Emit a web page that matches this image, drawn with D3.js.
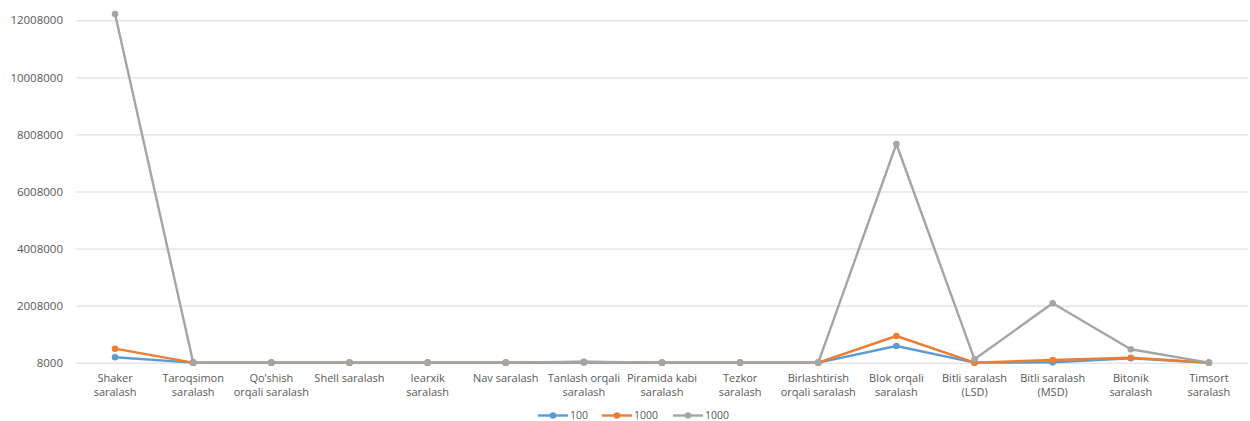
<!DOCTYPE html>
<html>
<head>
<meta charset="utf-8">
<script src="https://cdn.jsdelivr.net/npm/d3@7"></script>
<style>
  html, body { margin: 0; padding: 0; background: #fff; }
  svg { display: block; font-family: "Open Sans", sans-serif; }
</style>
</head>
<body>
<svg id="chart" width="1250" height="421"></svg>
<script>
// Sorting algorithms compared across input sizes
const categories = [
  "Shaker saralash", "Taroqsimon saralash", "Qo’shish orqali saralash",
  "Shell saralash", "Iearxik saralash", "Nav saralash",
  "Tanlash orqali saralash", "Piramida kabi saralash", "Tezkor saralash",
  "Birlashtirish orqali saralash", "Blok orqali saralash",
  "Bitli saralash (LSD)", "Bitli saralash (MSD)", "Bitonik saralash",
  "Timsort saralash"
];
const seriesNames = ["100", "1000", "1000"];
const values100  = [197000, 9000, 8500, 8500, 8500, 8500, 15000, 8500, 8500, 9000, 593000, 9000, 20000, 165000, 8500];
const values1000a = [499000, 10000, 9000, 9000, 9000, 9000, 30000, 9000, 9000, 10000, 944000, 10000, 103000, 183000, 9000];
const values1000b = [12226000, 12000, 10000, 10000, 10000, 10000, 40000, 10000, 10000, 12000, 7673000, 127000, 2090000, 478000, 10000];
const yTicks = [8000, 2008000, 4008000, 6008000, 8008000, 10008000, 12008000];
const colors = ["#5B9BD5", "#ED7D31", "#A5A5A5"];

const series = [values100, values1000a, values1000b].map((vals, i) => ({
  name: seriesNames[i], color: colors[i], values: vals
}));

const svg = d3.select("#chart");
const plotLeft = 76, plotRight = 1248, plotTop = 20.3, plotBottom = 362.7;

const x = d3.scaleBand().domain(categories).range([plotLeft, plotRight]);
const y = d3.scaleLinear().domain([8000, 12008000]).range([plotBottom, plotTop]);
const cx = c => x(c) + x.bandwidth() / 2;

// horizontal gridlines + y tick labels
const yAxis = d3.axisLeft(y).tickValues(yTicks).tickSize(-(plotRight - plotLeft)).tickPadding(13).tickFormat(d3.format("d"));
const gy = svg.append("g").attr("transform", `translate(${plotLeft},0)`).call(yAxis);
gy.select(".domain").remove();
gy.selectAll(".tick line").attr("stroke", "#D9D9D9").attr("stroke-width", 1);
gy.selectAll(".tick text").attr("fill", "#595959").style("font-size", "11.5px")
  .style("font-family", "'Open Sans', sans-serif");

// category labels, word-wrapped to the band width
const xAxis = d3.axisBottom(x).tickSize(0).tickPadding(0);
const gx = svg.append("g").attr("transform", `translate(0,${plotBottom})`).call(xAxis);
gx.select(".domain").remove();
gx.selectAll(".tick text").each(function(d) {
  const t = d3.select(this);
  t.text(null).attr("fill", "#595959").style("font-size", "11px")
   .style("font-family", "'Open Sans', sans-serif").attr("y", 0).attr("dy", null);
  const words = d.split(" ");
  const maxW = x.bandwidth() - 2;
  const lines = [];
  let cur = [];
  const probe = t.append("tspan");
  words.forEach(w => {
    const test = cur.concat([w]).join(" ");
    probe.text(test);
    if (probe.node().getComputedTextLength() > maxW && cur.length) {
      lines.push(cur.join(" "));
      cur = [w];
    } else {
      cur.push(w);
    }
  });
  lines.push(cur.join(" "));
  probe.remove();
  lines.forEach((ln, i) => {
    t.append("tspan").attr("x", 0).attr("y", 19 + i * 14).text(ln);
  });
});

// lines and markers
const line = d3.line().x((d, i) => cx(categories[i])).y(d => y(d));
series.forEach(s => {
  const g = svg.append("g");
  g.append("path").datum(s.values).attr("d", line)
    .attr("fill", "none").attr("stroke", s.color).attr("stroke-width", 2.4)
    .attr("stroke-linejoin", "round");
  g.selectAll("circle").data(s.values).join("circle")
    .attr("cx", (d, i) => cx(categories[i])).attr("cy", d => y(d))
    .attr("r", 3.3).attr("fill", s.color);
});

// legend
const legendX = [538, 602, 673];
const legendY = 415.5;
const lg = svg.append("g");
series.forEach((s, i) => {
  const g = lg.append("g").attr("transform", `translate(${legendX[i]},${legendY})`);
  g.append("line").attr("x1", 0).attr("x2", 30).attr("y1", 0).attr("y2", 0)
    .attr("stroke", s.color).attr("stroke-width", 2.4);
  g.append("circle").attr("cx", 15).attr("cy", 0).attr("r", 3.3).attr("fill", s.color);
  g.append("text").attr("x", 32).attr("y", 0).attr("dy", "0.33em")
    .attr("fill", "#595959").style("font-size", "10.5px").text(s.name);
});
</script>
</body>
</html>
